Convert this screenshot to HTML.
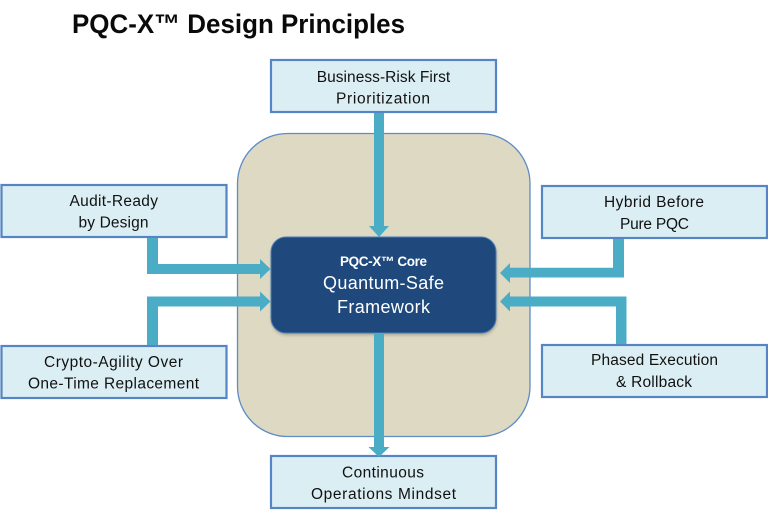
<!DOCTYPE html>
<html>
<head>
<meta charset="utf-8">
<style>
html,body{margin:0;padding:0;background:#fff;width:768px;height:512px;overflow:hidden}
svg{display:block;filter:blur(.3px)}
text{font-family:"Liberation Sans",sans-serif;fill:#111;text-anchor:start}
.b{font-size:15.500px}
.box{fill:#dbeef4;stroke:#5585c4;stroke-width:2.200}
.ar{fill:#4bacc6}
</style>
</head>
<body>
<svg width="768" height="512" viewBox="0 0 768 512" xmlns="http://www.w3.org/2000/svg">
<defs><filter id="soft" x="-5%" y="-5%" width="110%" height="115%"><feGaussianBlur stdDeviation="1.500"/></filter></defs>
<text x="72" y="33" font-size="27" font-weight="700" style="fill:#0a0a0a" textLength="333" lengthAdjust="spacingAndGlyphs">PQC-X™ Design Principles</text>

<rect x="237.500" y="133.500" width="292.500" height="303" rx="50" ry="50" fill="#ddd9c3" stroke="#5f8cc6" stroke-width="1.300"/>

<!-- boxes -->
<rect class="box" x="271" y="60" width="225" height="52"/>
<rect class="box" x="1.500" y="185" width="225" height="52"/>
<rect class="box" x="1.500" y="346" width="225" height="52"/>
<rect class="box" x="542" y="186" width="225" height="52"/>
<rect class="box" x="542" y="345" width="225" height="52"/>
<rect class="box" x="271" y="456" width="225" height="52"/>

<!-- core -->
<rect x="271.500" y="237.500" width="225" height="96" rx="15" fill="#000" opacity=".25" filter="url(#soft)" transform="translate(0 1.500)"/>
<rect x="271" y="237" width="225" height="96" rx="15" fill="#1f497d" stroke="#4a7ebb" stroke-width="1"/>

<!-- arrows -->
<path class="ar" d="M374 113H384V226H389L379 237L369 226H374Z"/>
<path class="ar" d="M374 334H384V447H389.500L379 457L368.500 447H374Z"/>
<path class="ar" d="M147 238H158V264H260V259L270.500 269L260 279V274H147Z"/>
<path class="ar" d="M147 345H158V306.500H260V311.500L270.500 301.500L260 291.500V296.500H147Z"/>
<path class="ar" d="M613 239H624V277.500H510V283L500 273L510 263V267.800H613Z"/>
<path class="ar" d="M616 344H626.500V296.500H510V291.500L500 301.500L510 311.500V306.500H616Z"/>

<!-- labels -->
<text class="b" x="316.700" y="82" textLength="133.500" lengthAdjust="spacing">Business-Risk First</text>
<text class="b" x="336" y="103.500" textLength="94" lengthAdjust="spacing">Prioritization</text>

<text class="b" x="69.500" y="206" textLength="88.500" lengthAdjust="spacing">Audit-Ready</text>
<text class="b" x="78.500" y="227.500" textLength="70" lengthAdjust="spacing">by Design</text>

<text class="b" x="44" y="367" textLength="139" lengthAdjust="spacing">Crypto-Agility Over</text>
<text class="b" x="28" y="388.500" textLength="171" lengthAdjust="spacing">One-Time Replacement</text>

<text class="b" x="604" y="207" textLength="100" lengthAdjust="spacing">Hybrid Before</text>
<text class="b" x="620" y="229" textLength="69" lengthAdjust="spacing">Pure PQC</text>

<text class="b" x="591" y="365" textLength="127" lengthAdjust="spacing">Phased Execution</text>
<text class="b" x="616" y="387" textLength="76" lengthAdjust="spacing">&amp; Rollback</text>

<text class="b" x="342" y="477.500" textLength="82" lengthAdjust="spacing">Continuous</text>
<text class="b" x="311" y="499" textLength="145" lengthAdjust="spacing">Operations Mindset</text>

<text x="340" y="266" font-size="13.500" font-weight="700" style="fill:#fff" textLength="87" lengthAdjust="spacing">PQC-X™ Core</text>
<text x="323" y="289" font-size="18" style="fill:#fff" textLength="121" lengthAdjust="spacing">Quantum-Safe</text>
<text x="337" y="313" font-size="18" style="fill:#fff" textLength="93" lengthAdjust="spacing">Framework</text>
</svg>
</body>
</html>
